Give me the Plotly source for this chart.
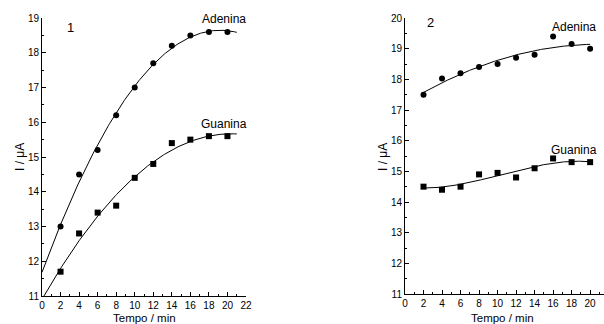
import numpy as np
import plotly.graph_objects as go

# Panel 1 data
t1 = [2, 4, 6, 8, 10, 12, 14, 16, 18, 20]
aden1 = [13.0, 14.5, 15.2, 16.2, 17.0, 17.7, 18.2, 18.5, 18.6, 18.6]
guan1 = [11.7, 12.8, 13.4, 13.6, 14.4, 14.8, 15.4, 15.5, 15.6, 15.6]

# Panel 2 data
t2 = [2, 4, 6, 8, 10, 12, 14, 16, 18, 20]
aden2 = [17.5, 18.03, 18.2, 18.4, 18.5, 18.7, 18.8, 19.4, 19.15, 19.0]
guan2 = [14.5, 14.4, 14.5, 14.9, 14.95, 14.8, 15.1, 15.42, 15.3, 15.3]

x_ticks1 = list(range(0, 23, 2))
x_ticks2 = list(range(0, 21, 2))
y_ticks1 = list(range(11, 20))
y_ticks2 = list(range(11, 21))

W, H = 604, 324
FONT = "Liberation Sans, Arial, sans-serif"

def fit(x, y, deg, x0, x1):
    c = np.polyfit(x, y, deg)
    xs = np.linspace(x0, x1, 200)
    return xs, np.polyval(c, xs)

fig = go.Figure()

# Panel 1
for y, sym, deg in [(aden1, "circle", 2), (guan1, "square", 2)]:
    xs, ys = fit(t1, y, deg, 0, 21)
    fig.add_trace(go.Scatter(x=xs, y=ys, mode="lines", line=dict(color="black", width=1),
                             xaxis="x", yaxis="y", showlegend=False, hoverinfo="skip"))
    fig.add_trace(go.Scatter(x=t1, y=y, mode="markers", marker=dict(symbol=sym, size=6, color="black"),
                             xaxis="x", yaxis="y", showlegend=False))

# Panel 2
for y, sym, deg in [(aden2, "circle", 2), (guan2, "square", 3)]:
    xs, ys = fit(t2, y, deg, 2, 20)
    fig.add_trace(go.Scatter(x=xs, y=ys, mode="lines", line=dict(color="black", width=1),
                             xaxis="x2", yaxis="y2", showlegend=False, hoverinfo="skip"))
    fig.add_trace(go.Scatter(x=t2, y=y, mode="markers", marker=dict(symbol=sym, size=6, color="black"),
                             xaxis="x2", yaxis="y2", showlegend=False))

def px(x):
    return x / W

def py(y):
    return 1 - y / H

axis_common = dict(showgrid=False, zeroline=False, showline=True, linecolor="black", linewidth=1,
                   ticks="inside", ticklen=4, tickcolor="black", tickwidth=1, automargin=False,
                   tickfont=dict(family=FONT, size=10, color="black"))

fig.update_layout(
    width=W, height=H, margin=dict(l=0, r=0, t=0, b=0, autoexpand=False),
    paper_bgcolor="white", plot_bgcolor="white",
    xaxis=dict(domain=[px(42), px(246)], range=[0, 22], tickvals=x_ticks1, anchor="y",
               minor=dict(dtick=1, ticks="inside", ticklen=2, tickcolor="black"), **axis_common),
    yaxis=dict(domain=[py(296), py(18)], range=[11, 19], tickvals=y_ticks1, anchor="x",
               minor=dict(dtick=0.5, ticks="inside", ticklen=2, tickcolor="black"), **axis_common),
    xaxis2=dict(domain=[px(405), 1.0], range=[0, 21.5], tickvals=x_ticks2, anchor="y2",
                minor=dict(dtick=1, ticks="inside", ticklen=2, tickcolor="black"), **axis_common),
    yaxis2=dict(domain=[py(294), py(18)], range=[11, 20], tickvals=y_ticks2, anchor="x2",
                minor=dict(dtick=0.5, ticks="inside", ticklen=2, tickcolor="black"), **axis_common),
)

def ann(text, x, y, size=12, angle=0):
    fig.add_annotation(text=text, x=px(x), y=py(y), xref="paper", yref="paper", showarrow=False,
                       font=dict(family=FONT, size=size, color="black"), textangle=angle,
                       xanchor="center", yanchor="middle")

ann("1", 70, 27, 13)
ann("2", 430, 23, 13)
ann("Adenina", 224, 19)
ann("Guanina", 224, 124)
ann("Adenina", 574, 27)
ann("Guanina", 574, 150)
ann("Tempo / min", 144, 318, 11.5)
ann("Tempo / min", 502, 318, 11.5)
ann("I / μA", 20, 157, 12, -90)
ann("I / μA", 383, 157, 12, -90)

fig.write_html("out.html", config={"displayModeBar": False},
               post_script="document.body.style.margin='0';document.body.style.overflow='hidden';")
